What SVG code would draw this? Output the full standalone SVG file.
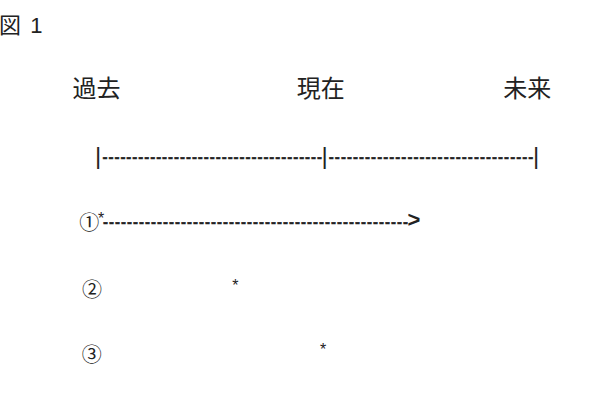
<svg xmlns="http://www.w3.org/2000/svg" width="600" height="400" viewBox="0 0 600 400">
<style>
  text { fill: #222; }
  .title { font-family: "Liberation Sans", "Noto Sans CJK JP", sans-serif; font-size: 22px; }
  .label { font-family: "Noto Sans CJK JP", sans-serif; font-size: 24px; text-anchor: middle; }
  .bar { font-family: "Liberation Sans", sans-serif; font-size: 24px; text-anchor: middle; }
  .dash { font-family: "Liberation Sans", sans-serif; font-size: 15px; font-weight: bold; stroke: #222; stroke-width: 0.45; }
  .arrow { font-family: "Liberation Sans", sans-serif; font-size: 22px; font-weight: bold; }
  .num { font-family: "Noto Sans CJK JP", sans-serif; font-size: 20px; text-anchor: middle; }
  .star { font-family: "Liberation Sans", sans-serif; font-size: 16px; text-anchor: middle; }
</style>
<rect width="600" height="400" fill="#ffffff"/>
<g id="title">
  <text class="title" x="-1" y="33">図 <tspan dx="3">1</tspan></text>
</g>
<g id="labels">
  <text class="label" x="96.4" y="96.5">過去</text>
  <text class="label" x="320.8" y="96.5">現在</text>
  <text class="label" x="527.2" y="96.5">未来</text>
</g>
<g id="timeline">
  <text class="bar" x="98" y="164">|</text>
  <text class="dash" x="102.5" y="161.6" textLength="219.5" lengthAdjust="spacing">-------------------------------------</text>
  <text class="bar" x="324.5" y="164">|</text>
  <text class="dash" x="328.8" y="161.6" textLength="204.5" lengthAdjust="spacing">----------------------------------</text>
  <text class="bar" x="536" y="164">|</text>
</g>
<g id="row1">
  <text class="num" x="89.2" y="229.6">①</text>
  <text class="star" x="101" y="224.2">*</text>
  <text class="dash" x="103" y="226.8" textLength="305" lengthAdjust="spacing">---------------------------------------------------</text>
  <text class="arrow" x="407.6" y="227">&gt;</text>
</g>
<g id="row2">
  <text class="num" x="92" y="297.1">②</text>
  <text class="star" x="235.3" y="290.5">*</text>
</g>
<g id="row3">
  <text class="num" x="91.7" y="362.1">③</text>
  <text class="star" x="323" y="354.8">*</text>
</g>
</svg>
